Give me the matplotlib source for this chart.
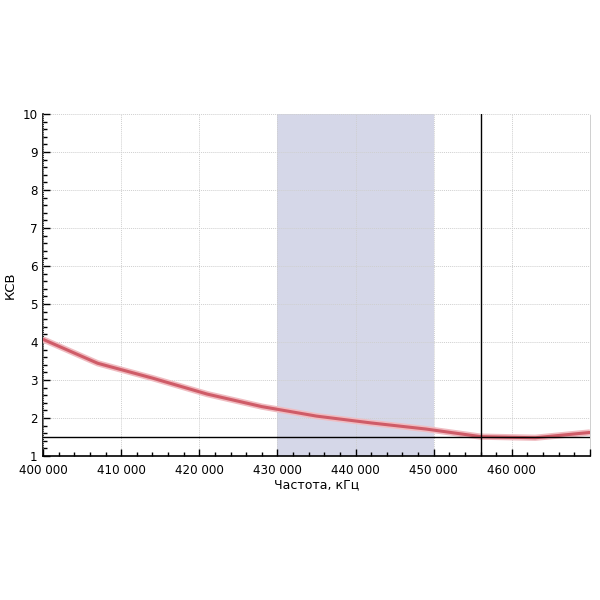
import matplotlib
matplotlib.use("Agg")
import matplotlib.pyplot as plt
from matplotlib.ticker import MultipleLocator, FuncFormatter

freq = [400000, 407000, 414000, 421000, 428000, 435000, 442000, 449000, 456000, 463000, 470000]
swr = [4.07, 3.44, 3.05, 2.63, 2.30, 2.05, 1.87, 1.71, 1.51, 1.48, 1.62]
band = (430000, 450000)
marker_freq = 456000
swr_limit = 1.5

fig = plt.figure(figsize=(6, 6), dpi=100)
ax = fig.add_axes([0.0717, 0.24, 0.9116, 0.57])

ax.axvspan(band[0], band[1], color="#d5d7e8", zorder=1, lw=0)
ax.plot(freq, swr, color="#f0bcc1", lw=4.5, zorder=3, solid_capstyle="butt")
ax.plot(freq, swr, color="#cf5c68", lw=2.2, zorder=4)
ax.axvline(marker_freq, color="black", lw=1, zorder=5)
ax.axhline(swr_limit, color="black", lw=1, zorder=5)

ax.set_xlim(400000, 470000)
ax.set_ylim(1, 10)
ax.xaxis.set_major_locator(MultipleLocator(10000))
ax.xaxis.set_minor_locator(MultipleLocator(2000))
ax.yaxis.set_major_locator(MultipleLocator(1))
ax.yaxis.set_minor_locator(MultipleLocator(0.2))
ax.xaxis.set_major_formatter(FuncFormatter(
    lambda v, p: "" if v >= 470000 else f"{int(v):,}".replace(",", " ")))
ax.grid(True, which="major", color="#cfcfcf", ls=(0, (1, 1)), lw=0.7, zorder=2)
ax.tick_params(which="both", direction="in", labelsize=8.6, width=1)
ax.tick_params(which="major", length=5)
ax.tick_params(which="minor", length=3)
ax.tick_params(axis="x", which="major", pad=6)
ax.tick_params(axis="y", which="major", pad=4)
ax.spines["top"].set_visible(False)
ax.spines["right"].set_color("#cfcfcf")
ax.spines["right"].set_linestyle((0, (1, 1)))
ax.spines["right"].set_linewidth(0.7)
for s in ["left", "bottom"]:
    ax.spines[s].set_linewidth(1.2)
ax.set_axisbelow(False)
ax.set_xlabel("Частота, кГц", fontsize=9, labelpad=1)
ax.set_ylabel("КСВ", fontsize=9.5, labelpad=4)

fig.savefig("out.png", dpi=100)
